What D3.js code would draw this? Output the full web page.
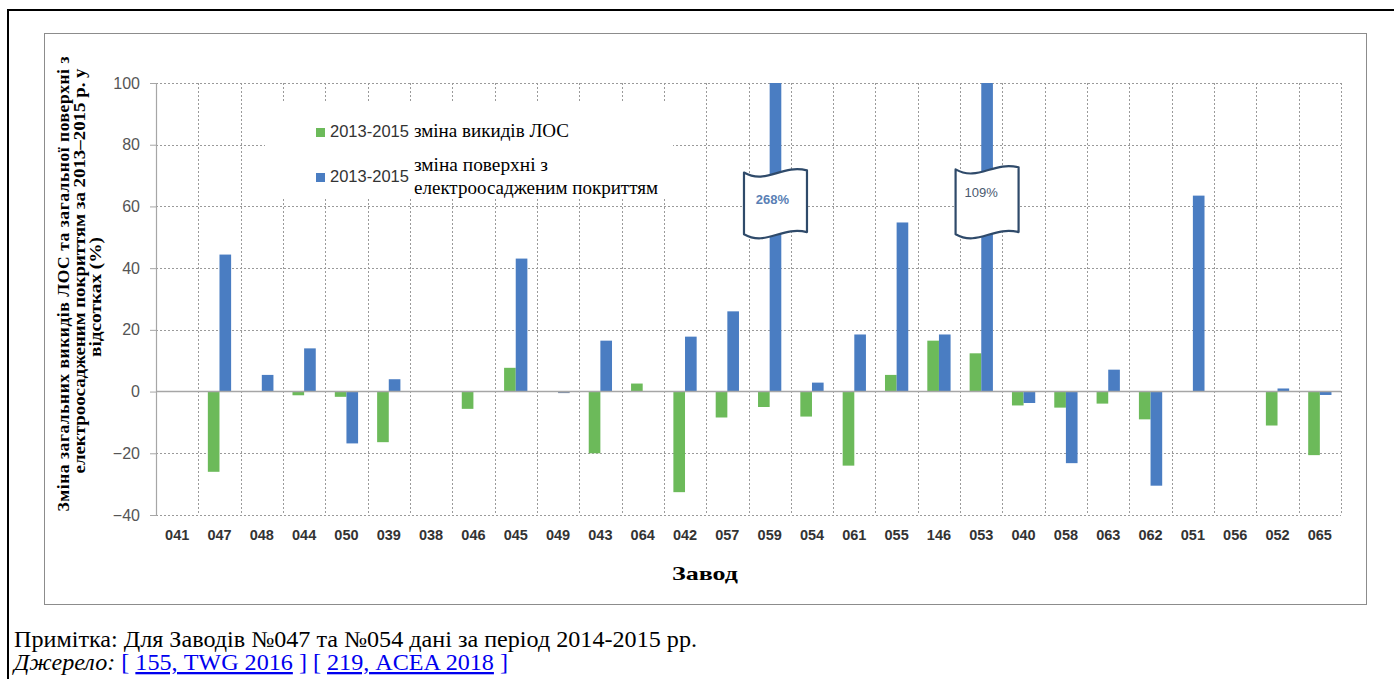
<!DOCTYPE html>
<html>
<head>
<meta charset="utf-8">
<script src="https://cdn.jsdelivr.net/npm/d3@7/dist/d3.min.js"></script>
<style>
  html, body { margin: 0; padding: 0; background: #fff; }
  svg { display: block; }
</style>
</head>
<body>
<svg id="chart" width="1394" height="679"></svg>
<script>
// ---- data ----
const categories = ["041","047","048","044","050","039","038","046","045","049","043","064","042","057","059","054","061","055","146","053","040","058","063","062","051","056","052","065"];
const vocChange = [null,-26,null,-1.2,-1.7,-16.4,null,-5.6,7.7,null,-20,2.6,-32.6,-8.4,-5,-8.1,-24,5.4,16.5,12.4,-4.5,-5.2,-3.9,-9,null,null,-11,-20.6];
const surfaceChange = [null,44.4,5.4,14,-16.8,4,null,null,43.1,-0.5,16.5,null,17.8,26,268,2.9,18.5,54.8,18.5,109,-3.7,-23.2,7.1,-30.5,63.5,null,1,-1.1];
const yTicks = [-40,-20,0,20,40,60,80,100];
const legendPeriod = "2013-2015";
const legendLines = [["зміна викидів ЛОС"], ["зміна поверхні з", "електроосадженим покриттям"]];
const yTitleLines = ["Зміна загальних викидів ЛОС та загальної поверхні з", "електроосадженим покриттям за 2013–2015 р. у", "відсотках (%)"];
const xTitle = "Завод";
const noteText = "Примітка: Для Заводів №047 та №054 дані за період 2014-2015 рр.";
const sourceLabel = "Джерело:";
const sourceRefs = ["155, TWG 2016", "219, ACEA 2018"];

// ---- style ----
const GREEN = "#6cba5a", BLUE = "#4a7dc2";
const SERIF = "'Liberation Serif', 'Times New Roman', serif";
const SANS = "'Liberation Sans', Arial, sans-serif";
const svg = d3.select("#chart");

// outer frame (black top and left rule)
svg.append("line").attr("x1",8).attr("x2",1394).attr("y1",10).attr("y2",10).attr("stroke","#000").attr("stroke-width",2);
svg.append("line").attr("x1",8).attr("x2",8).attr("y1",9).attr("y2",679).attr("stroke","#000").attr("stroke-width",2);

// chart frame
svg.append("rect").attr("x",44.5).attr("y",33.5).attr("width",1322).attr("height",571)
  .attr("fill","#fff").attr("stroke","#8c8c8c").attr("stroke-width",1);

const L = 156, R = 1341, T = 83, B = 515;
const x = d3.scaleBand().domain(categories).range([L, R]).padding(0);
const y = d3.scaleLinear().domain([-40, 100]).range([B, T]);
const bw = x.bandwidth() * 0.275;

// grid
const grid = svg.append("g");
grid.selectAll("line.h").data(yTicks.filter(d => d !== 0)).join("line")
  .attr("x1", L).attr("x2", R).attr("y1", d => Math.round(y(d))+0.5).attr("y2", d => Math.round(y(d))+0.5)
  .attr("stroke","#9a9a9a").attr("stroke-dasharray","2,2").attr("stroke-width",1);
grid.selectAll("line.v").data(categories).join("line")
  .attr("x1", d => Math.round(x(d) + x.bandwidth())+0.5).attr("x2", d => Math.round(x(d) + x.bandwidth())+0.5)
  .attr("y1", T).attr("y2", B)
  .attr("stroke","#9a9a9a").attr("stroke-dasharray","2,2").attr("stroke-width",1);

// legend background (covers the grid)
const legBox = {x:265, y:103, w:408, h:95};
svg.append("defs").append("clipPath").attr("id","legclip")
  .append("rect").attr("x",legBox.x).attr("y",legBox.y).attr("width",legBox.w).attr("height",legBox.h);
svg.append("rect").attr("x",legBox.x).attr("y",legBox.y).attr("width",legBox.w).attr("height",legBox.h).attr("fill","#fff");

// bars
const clampV = v => Math.max(-40, Math.min(100, v));
const barsG = svg.append("g");
const greenData = categories.map((c,i) => ({c, v: vocChange[i]})).filter(d => d.v !== null);
const blueData = categories.map((c,i) => ({c, v: surfaceChange[i]})).filter(d => d.v !== null);
barsG.selectAll("rect.g").data(greenData).join("rect")
  .attr("x", d => x(d.c) + x.bandwidth()/2 - bw)
  .attr("width", bw)
  .attr("y", d => y(Math.max(0, clampV(d.v))))
  .attr("height", d => Math.max(1, Math.abs(y(clampV(d.v)) - y(0))))
  .attr("fill", GREEN);
barsG.selectAll("rect.b").data(blueData).join("rect")
  .attr("x", d => x(d.c) + x.bandwidth()/2)
  .attr("width", bw)
  .attr("y", d => y(Math.max(0, clampV(d.v))))
  .attr("height", d => Math.max(1.2, Math.abs(y(clampV(d.v)) - y(0))))
  .attr("fill", d => Math.abs(d.v) < 1 ? "#7f8fa8" : BLUE);

// zero line
svg.append("line").attr("x1", L).attr("x2", R).attr("y1", y(0)).attr("y2", y(0))
  .attr("stroke","#a6a6a6").attr("stroke-width",1.6);

// y axis
const yAxis = svg.append("g").attr("transform", `translate(${L},0)`)
  .call(d3.axisLeft(y).tickValues(yTicks).tickSize(6).tickPadding(10).tickFormat(d3.format("d")));
yAxis.select(".domain").attr("stroke","#a6a6a6").attr("stroke-width",1.2);
yAxis.selectAll(".tick line").attr("stroke","#a6a6a6");
yAxis.selectAll("text").attr("font-family",SANS).attr("font-size",16).attr("fill","#555");

// x axis
const xAxis = svg.append("g").attr("transform", `translate(0,${B})`)
  .call(d3.axisBottom(x).tickSize(0).tickPadding(15));
xAxis.select(".domain").remove();
xAxis.selectAll("text").attr("font-family",SANS).attr("font-size",14.5)
  .attr("font-weight","bold").attr("fill","#333");

// axis titles
svg.append("text").attr("x", 705).attr("y", 580).attr("text-anchor","middle")
  .attr("font-family",SERIF).attr("font-weight","bold").attr("font-size",19)
  .attr("textLength", 66).attr("lengthAdjust","spacingAndGlyphs")
  .text(xTitle);
const titleSpec = [{cx: 284, len: 455, col: 69}, {cx: 271, len: 405, col: 85}, {cx: 297, len: 120, col: 101}];
yTitleLines.forEach((t,i) => {
  svg.append("text").attr("transform", `translate(${titleSpec[i].col},${titleSpec[i].cx}) rotate(-90)`)
    .attr("text-anchor","middle")
    .attr("font-family",SERIF).attr("font-weight","bold").attr("font-size",17.5)
    .attr("textLength", titleSpec[i].len).attr("lengthAdjust", i === 0 ? "spacing" : "spacingAndGlyphs")
    .text(t);
});

// legend
const leg = svg.append("g").attr("clip-path","url(#legclip)");
const legItems = [{color: GREEN, sq: 128, base: 137, lb: [137], lens: [155]},
                  {color: BLUE, sq: 173, base: 182, lb: [171, 194], lens: [134, 244]}];
legItems.forEach((it, k) => {
  leg.append("rect").attr("x",316).attr("y",it.sq).attr("width",9).attr("height",9).attr("fill",it.color);
  leg.append("text").attr("x",330).attr("y",it.base).attr("font-family",SANS)
    .attr("font-size",16.5).attr("fill","#333").text(legendPeriod);
  legendLines[k].forEach((l,j) => leg.append("text").attr("x",414).attr("y",it.lb[j])
    .attr("font-family",SERIF).attr("font-size",19).attr("fill","#000")
    .attr("textLength", it.lens[j]).attr("lengthAdjust","spacingAndGlyphs").text(l));
});

// axis-break markers for off-scale values
const breaks = blueData.filter(d => d.v > 100);
function bannerPath(x0, y0, w, h, a) {
  return `M${x0},${y0} C${x0+w*0.35},${y0+a*1.8} ${x0+w*0.6},${y0-a*1.2} ${x0+w},${y0-a*0.3}` +
         ` L${x0+w},${y0+h-a*0.3} C${x0+w*0.6},${y0+h-a*1.2} ${x0+w*0.35},${y0+h+a*1.8} ${x0},${y0+h} Z`;
}
const breakBoxes = [{top: 71, bottom: 51, color: "#5a7fb5", weight: "bold", ty: 200, dx: -3},
                    {top: 72, bottom: 51, color: "#4a5a70", weight: "normal", ty: 193, dx: -6}];
breaks.forEach((d,i) => {
  const cx = x(d.c) + x.bandwidth()/2 + bw/2;
  const w = 63, y0 = y(breakBoxes[i].top), h = y(breakBoxes[i].bottom) - y0;
  svg.append("path").attr("d", bannerPath(cx - w/2, y0, w, h, 7))
    .attr("fill","#fff").attr("stroke","#2f4a6a").attr("stroke-width",2.2).attr("stroke-linejoin","round");
  svg.append("text").attr("x", cx + breakBoxes[i].dx).attr("y", breakBoxes[i].ty + 4).attr("text-anchor","middle")
    .attr("font-family",SANS).attr("font-size",13)
    .attr("font-weight", breakBoxes[i].weight).attr("fill", breakBoxes[i].color)
    .text(Math.round(d.v) + "%");
});

// note lines below
svg.append("text").attr("x",14).attr("y",647).attr("font-family",SERIF)
  .attr("font-size",23).attr("fill","#000")
  .attr("textLength", 683).attr("lengthAdjust","spacingAndGlyphs").text(noteText);
const src = svg.append("text").attr("x",14).attr("y",670).attr("font-family",SERIF)
  .attr("font-size",23).attr("textLength", 494).attr("lengthAdjust","spacingAndGlyphs");
src.append("tspan").attr("font-style","italic").attr("fill","#000").text(sourceLabel);
src.append("tspan").attr("fill","#0000ee").text(" [ ");
src.append("tspan").attr("fill","#0000ee").attr("text-decoration","underline").text(sourceRefs[0]);
src.append("tspan").attr("fill","#0000ee").text(" ] [ ");
src.append("tspan").attr("fill","#0000ee").attr("text-decoration","underline").text(sourceRefs[1]);
src.append("tspan").attr("fill","#0000ee").text(" ]");
</script>
</body>
</html>
